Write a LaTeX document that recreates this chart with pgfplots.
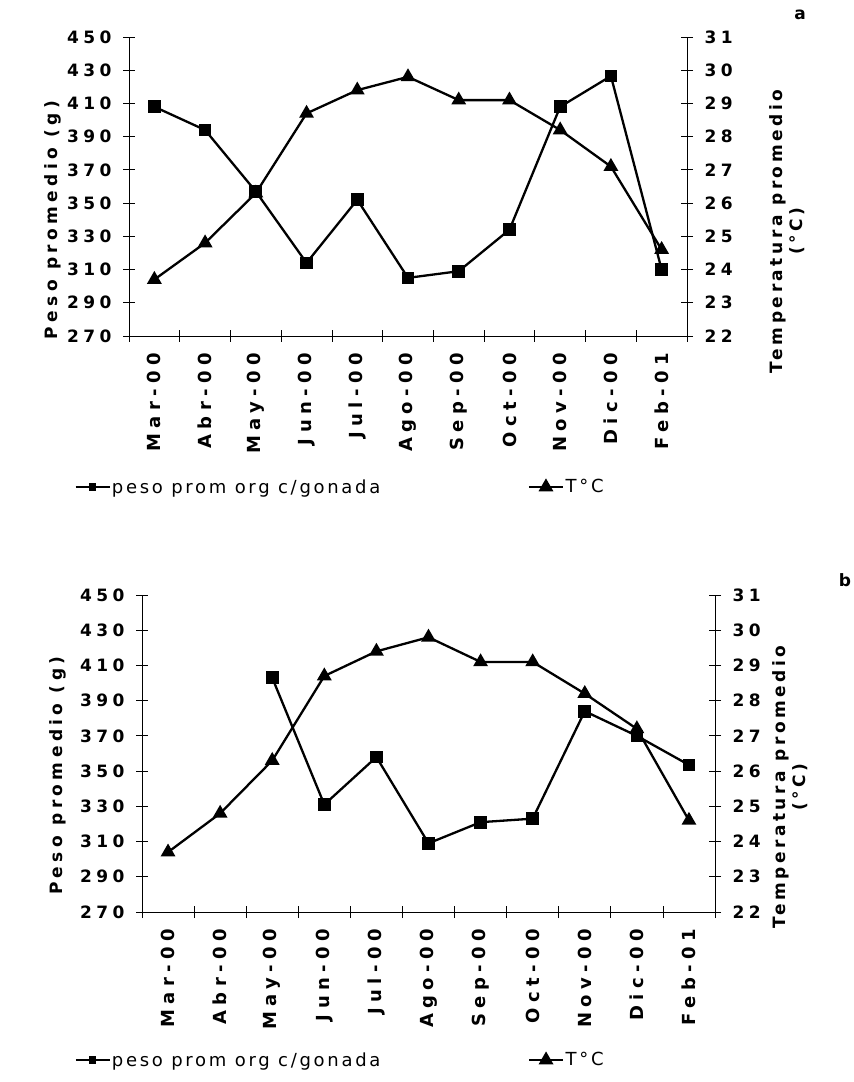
\documentclass[border=0pt]{standalone}
\usepackage{pgfplots}
\pgfplotsset{compat=1.18}
\usepackage{pgfplotstable}
\usepackage{fontspec}
\setmainfont{DejaVu Sans}[LetterSpace=26]
\newfontfamily\legfont{DejaVu Sans}[LetterSpace=15]
\newfontfamily\monthfont{DejaVu Sans}[LetterSpace=30]
\newfontfamily\tlabfont{DejaVu Sans}[LetterSpace=21]
\newcommand\fs{\fontsize{17bp}{20bp}\selectfont}
\newcommand\lfs{\fontsize{18bp}{21bp}\selectfont}

% mes  peso(g)  temperatura(°C)
\pgfplotstableread{
m peso temp
1 408 23.7
2 394 24.8
3 357 26.3
4 314 28.7
5 352 29.4
6 305 29.8
7 309 29.1
8 334 29.1
9 408 28.2
10 426.5 27.1
11 310 24.6
}\dataA

\pgfplotstableread{
m peso temp
1 nan 23.7
2 nan 24.8
3 403 26.3
4 331 28.7
5 358 29.4
6 309 29.8
7 321 29.1
8 323 29.1
9 384 28.2
10 370 27.2
11 353.5 24.6
}\dataB

\pgfplotsset{
  base/.style={scale only axis, xmin=0.5, xmax=11.5, clip=false,
    tick align=center, major tick length=12bp,
    every tick/.style={black, line width=0.8bp},
    axis line style={black, line width=0.9bp},
    tick label style={font=\fs\bfseries, text=black},
    label style={font=\fs\bfseries},
    /pgf/number format/assume math mode=true,
    unbounded coords=discard},
  pesoaxis/.style={base, ymin=270, ymax=450, ytick={270,290,...,450},
    axis y line*=left, axis x line*=bottom,
    xtick={0.5,1.5,...,11.5}, xticklabels={},
    extra x ticks={1,...,11},
    extra x tick labels={Mar-00,Abr-00,May-00,Jun-00,Jul-00,Ago-00,Sep-00,Oct-00,Nov-00,Dic-00,Feb-01},
    extra x tick style={major tick length=0pt,
      tick label style={rotate=90, anchor=east, inner xsep=17bp,
        font=\fontsize{18bp}{20bp}\selectfont\monthfont\bfseries}},
    ylabel={Peso promedio (g)},
    yticklabel style={xshift=-8bp}},
  tempaxis/.style={base, ymin=22, ymax=31, ytick={22,...,31},
    axis y line*=right, axis x line=none,
    ylabel={Temperatura promedio\\(°C)},
    ylabel style={font=\fs\tlabfont\bfseries},
    yticklabel style={xshift=8bp},
    legend columns=2,
    legend style={draw=none, fill=none, inner sep=0pt, anchor=west,
      font=\lfs\legfont, nodes={inner sep=1.5bp},
      /tikz/every even column/.append style={column sep=146bp}},
    legend image code/.code={%
      \draw[#1, mark repeat=2, mark phase=2]
        plot coordinates {(0bp,0bp) (17bp,0bp) (34bp,0bp)};}},
  pesoline/.style={black, line width=2.3bp, mark=square*, mark size=5.2bp},
  templine/.style={black, line width=2.3bp, mark=triangle*, mark size=6.3bp},
}

\begin{document}
\begin{tikzpicture}
\path[use as bounding box] (0bp,0bp) rectangle (854bp,1082bp);

% ---- panel a ----
\begin{axis}[pesoaxis, at={(129bp,746bp)}, anchor=south west,
    width=558bp, height=299bp,
    ylabel style={at={(axis description cs:-0.137,0.388)}, anchor=center}]
  \addplot[pesoline] table[x=m, y=peso] {\dataA};
\end{axis}
\begin{axis}[tempaxis, at={(129bp,746bp)}, anchor=south west,
    width=558bp, height=299bp,
    ylabel style={at={(axis description cs:1.179,0.35)}, anchor=center, align=center},
    legend style={at={(axis description cs:-0.097,-0.505)}}]
  \addlegendimage{pesoline, mark size=3bp, line width=1.3bp}
  \addlegendentry{peso prom org c/gonada}
  \addplot[templine] table[x=m, y=temp] {\dataA};
  \addlegendentry{T°C}
\end{axis}
\node[font=\fs\bfseries] at (800bp,1067bp) {a};

% ---- panel b ----
\begin{axis}[pesoaxis, at={(142bp,170bp)}, anchor=south west,
    width=573bp, height=317bp,
    ylabel style={at={(axis description cs:-0.147,0.43)}, anchor=center}]
  \addplot[pesoline] table[x=m, y=peso] {\dataB};
\end{axis}
\begin{axis}[tempaxis, at={(142bp,170bp)}, anchor=south west,
    width=573bp, height=317bp,
    ylabel style={at={(axis description cs:1.131,0.394)}, anchor=center, align=center},
    legend style={at={(axis description cs:-0.117,-0.467)}}]
  \addlegendimage{pesoline, mark size=3bp, line width=1.3bp}
  \addlegendentry{peso prom org c/gonada}
  \addplot[templine] table[x=m, y=temp] {\dataB};
  \addlegendentry{T°C}
\end{axis}
\node[font=\fs\bfseries] at (845bp,502bp) {b};
\end{tikzpicture}
\end{document}
